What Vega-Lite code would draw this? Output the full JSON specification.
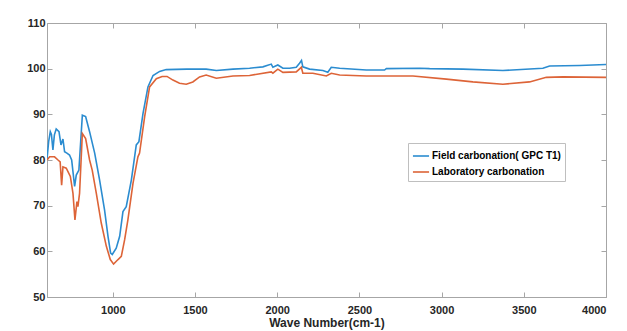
{
  "$schema": "https://vega.github.io/schema/vega-lite/v6.json",
  "autosize": {"type": "none"},
  "width": 559,
  "height": 274,
  "padding": {"left": 47, "top": 23, "right": 21, "bottom": 34},
  "background": "white",
  "config": {
    "font": "Liberation Sans",
    "view": {"stroke": "#a6a6a6", "strokeWidth": 1},
    "axis": {
      "grid": false,
      "domainColor": "#a6a6a6",
      "tickColor": "#a6a6a6",
      "tickSize": -5,
      "labelColor": "#262626",
      "labelFont": "Liberation Sans",
      "labelFontSize": 11,
      "labelFontWeight": "bold",
      "titleColor": "#262626",
      "titleFont": "Liberation Sans",
      "titleFontSize": 12,
      "titleFontWeight": "bold"
    }
  },
  "datasets": {
    "spectra": [
      {"wave": 600, "t": 80.2, "series": "Field carbonation( GPC T1)"},
      {"wave": 610, "t": 84.0, "series": "Field carbonation( GPC T1)"},
      {"wave": 620, "t": 86.2, "series": "Field carbonation( GPC T1)"},
      {"wave": 627, "t": 85.6, "series": "Field carbonation( GPC T1)"},
      {"wave": 636, "t": 82.2, "series": "Field carbonation( GPC T1)"},
      {"wave": 645, "t": 85.5, "series": "Field carbonation( GPC T1)"},
      {"wave": 656, "t": 86.8, "series": "Field carbonation( GPC T1)"},
      {"wave": 673, "t": 86.2, "series": "Field carbonation( GPC T1)"},
      {"wave": 685, "t": 83.3, "series": "Field carbonation( GPC T1)"},
      {"wave": 697, "t": 84.6, "series": "Field carbonation( GPC T1)"},
      {"wave": 707, "t": 81.8, "series": "Field carbonation( GPC T1)"},
      {"wave": 721, "t": 81.5, "series": "Field carbonation( GPC T1)"},
      {"wave": 737, "t": 81.1, "series": "Field carbonation( GPC T1)"},
      {"wave": 750, "t": 80.0, "series": "Field carbonation( GPC T1)"},
      {"wave": 768, "t": 74.2, "series": "Field carbonation( GPC T1)"},
      {"wave": 778, "t": 76.7, "series": "Field carbonation( GPC T1)"},
      {"wave": 794, "t": 77.8, "series": "Field carbonation( GPC T1)"},
      {"wave": 815, "t": 89.8, "series": "Field carbonation( GPC T1)"},
      {"wave": 835, "t": 89.5, "series": "Field carbonation( GPC T1)"},
      {"wave": 859, "t": 86.2, "series": "Field carbonation( GPC T1)"},
      {"wave": 890, "t": 81.5, "series": "Field carbonation( GPC T1)"},
      {"wave": 920, "t": 75.6, "series": "Field carbonation( GPC T1)"},
      {"wave": 950, "t": 69.1, "series": "Field carbonation( GPC T1)"},
      {"wave": 971, "t": 63.3, "series": "Field carbonation( GPC T1)"},
      {"wave": 987, "t": 59.6, "series": "Field carbonation( GPC T1)"},
      {"wave": 997, "t": 59.3, "series": "Field carbonation( GPC T1)"},
      {"wave": 1021, "t": 60.7, "series": "Field carbonation( GPC T1)"},
      {"wave": 1042, "t": 63.3, "series": "Field carbonation( GPC T1)"},
      {"wave": 1062, "t": 68.7, "series": "Field carbonation( GPC T1)"},
      {"wave": 1082, "t": 69.8, "series": "Field carbonation( GPC T1)"},
      {"wave": 1113, "t": 75.6, "series": "Field carbonation( GPC T1)"},
      {"wave": 1143, "t": 83.3, "series": "Field carbonation( GPC T1)"},
      {"wave": 1159, "t": 84.0, "series": "Field carbonation( GPC T1)"},
      {"wave": 1184, "t": 90.2, "series": "Field carbonation( GPC T1)"},
      {"wave": 1214, "t": 96.0, "series": "Field carbonation( GPC T1)"},
      {"wave": 1245, "t": 98.5, "series": "Field carbonation( GPC T1)"},
      {"wave": 1285, "t": 99.4, "series": "Field carbonation( GPC T1)"},
      {"wave": 1325, "t": 99.8, "series": "Field carbonation( GPC T1)"},
      {"wave": 1450, "t": 99.9, "series": "Field carbonation( GPC T1)"},
      {"wave": 1568, "t": 99.9, "series": "Field carbonation( GPC T1)"},
      {"wave": 1630, "t": 99.6, "series": "Field carbonation( GPC T1)"},
      {"wave": 1731, "t": 99.9, "series": "Field carbonation( GPC T1)"},
      {"wave": 1832, "t": 100.1, "series": "Field carbonation( GPC T1)"},
      {"wave": 1913, "t": 100.4, "series": "Field carbonation( GPC T1)"},
      {"wave": 1964, "t": 101.0, "series": "Field carbonation( GPC T1)"},
      {"wave": 1974, "t": 100.3, "series": "Field carbonation( GPC T1)"},
      {"wave": 2004, "t": 100.8, "series": "Field carbonation( GPC T1)"},
      {"wave": 2035, "t": 100.1, "series": "Field carbonation( GPC T1)"},
      {"wave": 2075, "t": 100.1, "series": "Field carbonation( GPC T1)"},
      {"wave": 2116, "t": 100.3, "series": "Field carbonation( GPC T1)"},
      {"wave": 2136, "t": 101.2, "series": "Field carbonation( GPC T1)"},
      {"wave": 2148, "t": 101.8, "series": "Field carbonation( GPC T1)"},
      {"wave": 2156, "t": 100.4, "series": "Field carbonation( GPC T1)"},
      {"wave": 2197, "t": 99.9, "series": "Field carbonation( GPC T1)"},
      {"wave": 2278, "t": 99.6, "series": "Field carbonation( GPC T1)"},
      {"wave": 2308, "t": 99.2, "series": "Field carbonation( GPC T1)"},
      {"wave": 2329, "t": 100.3, "series": "Field carbonation( GPC T1)"},
      {"wave": 2380, "t": 100.1, "series": "Field carbonation( GPC T1)"},
      {"wave": 2542, "t": 99.7, "series": "Field carbonation( GPC T1)"},
      {"wave": 2653, "t": 99.7, "series": "Field carbonation( GPC T1)"},
      {"wave": 2664, "t": 100.0, "series": "Field carbonation( GPC T1)"},
      {"wave": 2866, "t": 100.1, "series": "Field carbonation( GPC T1)"},
      {"wave": 2927, "t": 100.0, "series": "Field carbonation( GPC T1)"},
      {"wave": 3130, "t": 99.9, "series": "Field carbonation( GPC T1)"},
      {"wave": 3373, "t": 99.6, "series": "Field carbonation( GPC T1)"},
      {"wave": 3616, "t": 100.1, "series": "Field carbonation( GPC T1)"},
      {"wave": 3657, "t": 100.6, "series": "Field carbonation( GPC T1)"},
      {"wave": 3840, "t": 100.7, "series": "Field carbonation( GPC T1)"},
      {"wave": 4000, "t": 100.9, "series": "Field carbonation( GPC T1)"},

      {"wave": 600, "t": 80.0, "series": "Laboratory carbonation"},
      {"wave": 616, "t": 80.7, "series": "Laboratory carbonation"},
      {"wave": 646, "t": 80.7, "series": "Laboratory carbonation"},
      {"wave": 667, "t": 80.0, "series": "Laboratory carbonation"},
      {"wave": 680, "t": 79.6, "series": "Laboratory carbonation"},
      {"wave": 689, "t": 74.5, "series": "Laboratory carbonation"},
      {"wave": 697, "t": 78.5, "series": "Laboratory carbonation"},
      {"wave": 717, "t": 78.2, "series": "Laboratory carbonation"},
      {"wave": 742, "t": 76.4, "series": "Laboratory carbonation"},
      {"wave": 758, "t": 72.7, "series": "Laboratory carbonation"},
      {"wave": 770, "t": 66.9, "series": "Laboratory carbonation"},
      {"wave": 782, "t": 70.9, "series": "Laboratory carbonation"},
      {"wave": 788, "t": 69.8, "series": "Laboratory carbonation"},
      {"wave": 798, "t": 72.7, "series": "Laboratory carbonation"},
      {"wave": 815, "t": 85.8, "series": "Laboratory carbonation"},
      {"wave": 835, "t": 84.7, "series": "Laboratory carbonation"},
      {"wave": 859, "t": 80.0, "series": "Laboratory carbonation"},
      {"wave": 875, "t": 77.8, "series": "Laboratory carbonation"},
      {"wave": 900, "t": 72.7, "series": "Laboratory carbonation"},
      {"wave": 930, "t": 66.2, "series": "Laboratory carbonation"},
      {"wave": 961, "t": 61.1, "series": "Laboratory carbonation"},
      {"wave": 985, "t": 58.2, "series": "Laboratory carbonation"},
      {"wave": 1005, "t": 57.2, "series": "Laboratory carbonation"},
      {"wave": 1032, "t": 58.2, "series": "Laboratory carbonation"},
      {"wave": 1052, "t": 58.9, "series": "Laboratory carbonation"},
      {"wave": 1072, "t": 62.5, "series": "Laboratory carbonation"},
      {"wave": 1092, "t": 66.9, "series": "Laboratory carbonation"},
      {"wave": 1123, "t": 74.9, "series": "Laboratory carbonation"},
      {"wave": 1153, "t": 80.7, "series": "Laboratory carbonation"},
      {"wave": 1163, "t": 81.5, "series": "Laboratory carbonation"},
      {"wave": 1194, "t": 89.5, "series": "Laboratory carbonation"},
      {"wave": 1224, "t": 96.0, "series": "Laboratory carbonation"},
      {"wave": 1265, "t": 97.8, "series": "Laboratory carbonation"},
      {"wave": 1300, "t": 98.3, "series": "Laboratory carbonation"},
      {"wave": 1330, "t": 98.3, "series": "Laboratory carbonation"},
      {"wave": 1366, "t": 97.5, "series": "Laboratory carbonation"},
      {"wave": 1406, "t": 96.8, "series": "Laboratory carbonation"},
      {"wave": 1447, "t": 96.6, "series": "Laboratory carbonation"},
      {"wave": 1487, "t": 97.1, "series": "Laboratory carbonation"},
      {"wave": 1528, "t": 98.2, "series": "Laboratory carbonation"},
      {"wave": 1568, "t": 98.6, "series": "Laboratory carbonation"},
      {"wave": 1630, "t": 97.9, "series": "Laboratory carbonation"},
      {"wave": 1731, "t": 98.4, "series": "Laboratory carbonation"},
      {"wave": 1832, "t": 98.5, "series": "Laboratory carbonation"},
      {"wave": 1964, "t": 99.3, "series": "Laboratory carbonation"},
      {"wave": 1974, "t": 99.0, "series": "Laboratory carbonation"},
      {"wave": 2004, "t": 99.9, "series": "Laboratory carbonation"},
      {"wave": 2035, "t": 99.2, "series": "Laboratory carbonation"},
      {"wave": 2116, "t": 99.3, "series": "Laboratory carbonation"},
      {"wave": 2147, "t": 100.3, "series": "Laboratory carbonation"},
      {"wave": 2156, "t": 99.0, "series": "Laboratory carbonation"},
      {"wave": 2217, "t": 99.0, "series": "Laboratory carbonation"},
      {"wave": 2299, "t": 98.4, "series": "Laboratory carbonation"},
      {"wave": 2329, "t": 99.0, "series": "Laboratory carbonation"},
      {"wave": 2380, "t": 98.6, "series": "Laboratory carbonation"},
      {"wave": 2542, "t": 98.4, "series": "Laboratory carbonation"},
      {"wave": 2826, "t": 98.4, "series": "Laboratory carbonation"},
      {"wave": 3029, "t": 97.7, "series": "Laboratory carbonation"},
      {"wave": 3190, "t": 97.1, "series": "Laboratory carbonation"},
      {"wave": 3373, "t": 96.6, "series": "Laboratory carbonation"},
      {"wave": 3535, "t": 97.1, "series": "Laboratory carbonation"},
      {"wave": 3637, "t": 98.1, "series": "Laboratory carbonation"},
      {"wave": 3738, "t": 98.2, "series": "Laboratory carbonation"},
      {"wave": 4000, "t": 98.1, "series": "Laboratory carbonation"}
    ]
  },
  "data": {"name": "spectra"},
  "layer": [
    {
      "mark": {"type": "line", "strokeWidth": 1.6, "clip": true},
      "encoding": {
        "x": {
          "field": "wave", "type": "quantitative",
          "scale": {"domain": [600, 4000], "nice": false, "zero": false},
          "axis": {"title": "Wave Number(cm-1)", "format": "d", "values": [1000, 1500, 2000, 2500, 3000, 3500, 4000], "labelPadding": 12, "titlePadding": 2}
        },
        "y": {
          "field": "t", "type": "quantitative",
          "scale": {"domain": [50, 110], "nice": false, "zero": false},
          "axis": {"title": null, "format": "d", "values": [50, 60, 70, 80, 90, 100, 110], "labelPadding": 7}
        },
        "color": {
          "field": "series", "type": "nominal",
          "scale": {"domain": ["Field carbonation( GPC T1)", "Laboratory carbonation"], "range": ["#2b8cd0", "#dd6438"]},
          "legend": {
            "title": null,
            "orient": "none",
            "legendX": 361,
            "legendY": 120,
            "symbolType": "stroke",
            "symbolSize": 260,
            "symbolStrokeWidth": 1.6,
            "labelFont": "Liberation Sans",
            "labelFontSize": 10,
            "labelFontWeight": "bold",
            "labelColor": "#000000",
            "strokeColor": "#bfbfbf",
            "fillColor": "white",
            "padding": 4,
            "rowPadding": 2,
            "labelOffset": 2
          }
        },
        "order": {"field": "wave", "type": "quantitative"}
      }
    },
    {
      "mark": {"type": "line", "opacity": 0},
      "encoding": {
        "x": {"field": "wave", "type": "quantitative", "axis": {"orient": "top", "labels": false, "title": null, "domain": false, "values": [1000, 1500, 2000, 2500, 3000, 3500, 4000]}},
        "y": {"field": "t", "type": "quantitative", "axis": {"orient": "right", "labels": false, "title": null, "domain": false, "values": [50, 60, 70, 80, 90, 100, 110]}},
        "detail": {"field": "series"}
      }
    }
  ],
  "resolve": {"axis": {"x": "independent", "y": "independent"}}
}
